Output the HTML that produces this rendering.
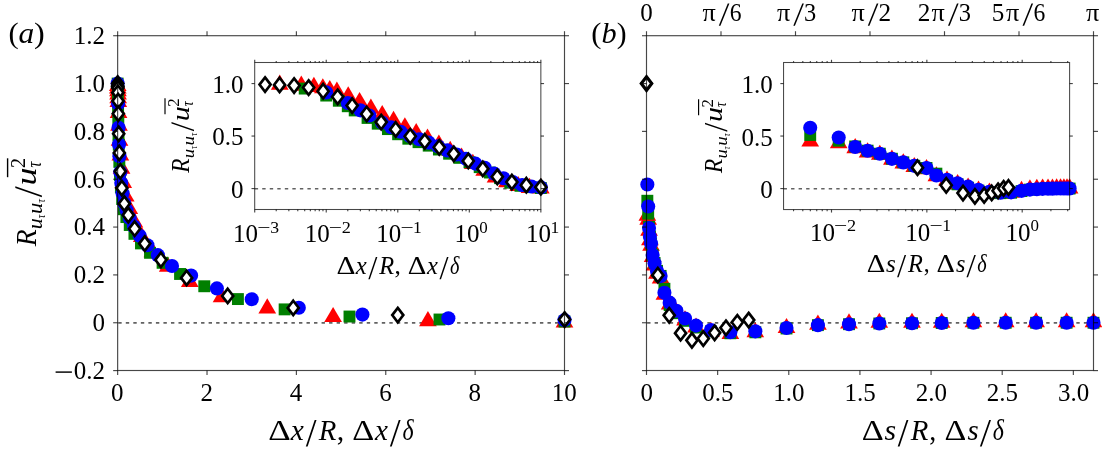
<!DOCTYPE html>
<html><head><meta charset="utf-8"><title>fig</title>
<style>html,body{margin:0;padding:0;background:#fff;}svg{display:block;will-change:transform;}</style></head>
<body>
<svg width="1102" height="449" viewBox="0 0 1102 449" font-family="'Liberation Serif', serif" fill="#000">
<rect width="1102" height="449" fill="#fff"/>
<line x1="118.25" y1="322.85" x2="564.50" y2="322.85" stroke="#626262" stroke-width="1.65" stroke-dasharray="3.4 4.13"/>
<line x1="647.10" y1="322.85" x2="1093.50" y2="322.85" stroke="#626262" stroke-width="1.65" stroke-dasharray="3.4 4.13"/>
<path d="M108.90 91.03L126.60 91.03L117.75 75.88Z" fill="#ff0000"/>
<path d="M109.00 93.43L126.70 93.43L117.85 78.28Z" fill="#ff0000"/>
<path d="M109.10 96.13L126.80 96.13L117.95 80.98Z" fill="#ff0000"/>
<path d="M109.20 99.42L126.90 99.42L118.05 84.27Z" fill="#ff0000"/>
<path d="M109.30 103.35L127.00 103.35L118.15 88.20Z" fill="#ff0000"/>
<path d="M109.43 106.89L127.13 106.89L118.28 91.74Z" fill="#ff0000"/>
<path d="M109.71 117.92L127.41 117.92L118.56 102.77Z" fill="#ff0000"/>
<path d="M110.11 130.76L127.81 130.76L118.96 115.61Z" fill="#ff0000"/>
<path d="M110.68 145.80L128.38 145.80L119.53 130.65Z" fill="#ff0000"/>
<path d="M111.51 160.38L129.21 160.38L120.36 145.23Z" fill="#ff0000"/>
<path d="M112.70 173.77L130.40 173.77L121.55 158.62Z" fill="#ff0000"/>
<path d="M114.42 188.10L132.12 188.10L123.27 172.95Z" fill="#ff0000"/>
<path d="M116.89 201.59L134.59 201.59L125.74 186.44Z" fill="#ff0000"/>
<path d="M120.45 214.00L138.15 214.00L129.30 198.85Z" fill="#ff0000"/>
<path d="M125.57 227.59L143.27 227.59L134.42 212.44Z" fill="#ff0000"/>
<path d="M132.95 241.98L150.65 241.98L141.80 226.83Z" fill="#ff0000"/>
<path d="M143.58 257.16L161.28 257.16L152.43 242.01Z" fill="#ff0000"/>
<path d="M158.89 271.73L176.59 271.73L167.74 256.58Z" fill="#ff0000"/>
<path d="M180.94 287.05L198.64 287.05L189.79 271.90Z" fill="#ff0000"/>
<path d="M212.69 302.32L230.39 302.32L221.54 287.17Z" fill="#ff0000"/>
<path d="M258.41 313.44L276.11 313.44L267.26 298.29Z" fill="#ff0000"/>
<path d="M324.26 322.06L341.96 322.06L333.11 306.91Z" fill="#ff0000"/>
<path d="M419.09 326.20L436.79 326.20L427.94 311.05Z" fill="#ff0000"/>
<path d="M555.65 327.56L573.35 327.56L564.50 312.41Z" fill="#ff0000"/>
<rect x="111.70" y="77.60" width="11.9" height="11.9" fill="#007f00"/>
<rect x="111.92" y="89.04" width="11.9" height="11.9" fill="#007f00"/>
<rect x="112.15" y="104.95" width="11.9" height="11.9" fill="#007f00"/>
<rect x="112.37" y="116.77" width="11.9" height="11.9" fill="#007f00"/>
<rect x="112.59" y="129.29" width="11.9" height="11.9" fill="#007f00"/>
<rect x="112.82" y="138.84" width="11.9" height="11.9" fill="#007f00"/>
<rect x="113.39" y="155.94" width="11.9" height="11.9" fill="#007f00"/>
<rect x="114.05" y="169.05" width="11.9" height="11.9" fill="#007f00"/>
<rect x="114.96" y="181.38" width="11.9" height="11.9" fill="#007f00"/>
<rect x="116.22" y="193.07" width="11.9" height="11.9" fill="#007f00"/>
<rect x="117.98" y="203.26" width="11.9" height="11.9" fill="#007f00"/>
<rect x="120.41" y="211.13" width="11.9" height="11.9" fill="#007f00"/>
<rect x="123.80" y="219.05" width="11.9" height="11.9" fill="#007f00"/>
<rect x="128.49" y="227.90" width="11.9" height="11.9" fill="#007f00"/>
<rect x="135.02" y="237.45" width="11.9" height="11.9" fill="#007f00"/>
<rect x="144.07" y="246.86" width="11.9" height="11.9" fill="#007f00"/>
<rect x="156.64" y="256.88" width="11.9" height="11.9" fill="#007f00"/>
<rect x="174.10" y="268.03" width="11.9" height="11.9" fill="#007f00"/>
<rect x="198.33" y="280.31" width="11.9" height="11.9" fill="#007f00"/>
<rect x="231.97" y="293.12" width="11.9" height="11.9" fill="#007f00"/>
<rect x="278.68" y="303.43" width="11.9" height="11.9" fill="#007f00"/>
<rect x="343.53" y="310.58" width="11.9" height="11.9" fill="#007f00"/>
<rect x="433.56" y="313.56" width="11.9" height="11.9" fill="#007f00"/>
<rect x="558.55" y="315.60" width="11.9" height="11.9" fill="#007f00"/>
<circle cx="117.65" cy="83.55" r="7.05" fill="#0000ff"/>
<circle cx="118.10" cy="103.72" r="7.05" fill="#0000ff"/>
<circle cx="118.54" cy="127.70" r="7.05" fill="#0000ff"/>
<circle cx="118.99" cy="144.60" r="7.05" fill="#0000ff"/>
<circle cx="119.44" cy="156.25" r="7.05" fill="#0000ff"/>
<circle cx="120.33" cy="172.15" r="7.05" fill="#0000ff"/>
<circle cx="121.27" cy="182.94" r="7.05" fill="#0000ff"/>
<circle cx="122.54" cy="193.25" r="7.05" fill="#0000ff"/>
<circle cx="124.26" cy="203.05" r="7.05" fill="#0000ff"/>
<circle cx="126.58" cy="210.30" r="7.05" fill="#0000ff"/>
<circle cx="129.72" cy="218.05" r="7.05" fill="#0000ff"/>
<circle cx="133.96" cy="226.61" r="7.05" fill="#0000ff"/>
<circle cx="139.69" cy="235.83" r="7.05" fill="#0000ff"/>
<circle cx="147.43" cy="245.18" r="7.05" fill="#0000ff"/>
<circle cx="157.88" cy="255.14" r="7.05" fill="#0000ff"/>
<circle cx="172.01" cy="265.98" r="7.05" fill="#0000ff"/>
<circle cx="191.09" cy="275.61" r="7.05" fill="#0000ff"/>
<circle cx="216.88" cy="288.40" r="7.05" fill="#0000ff"/>
<circle cx="251.73" cy="299.20" r="7.05" fill="#0000ff"/>
<circle cx="298.81" cy="307.73" r="7.05" fill="#0000ff"/>
<circle cx="362.42" cy="314.60" r="7.05" fill="#0000ff"/>
<circle cx="448.37" cy="318.21" r="7.05" fill="#0000ff"/>
<circle cx="564.50" cy="320.12" r="7.05" fill="#0000ff"/>
<path d="M117.65 76.35L123.20 83.55L117.65 90.75L112.10 83.55Z" fill="#fff" stroke="#000" stroke-width="2.65" stroke-linejoin="miter"/>
<path d="M117.71 78.74L123.26 85.94L117.71 93.14L112.16 85.94Z" fill="#fff" stroke="#000" stroke-width="2.65" stroke-linejoin="miter"/>
<path d="M117.75 79.46L123.30 86.66L117.75 93.86L112.20 86.66Z" fill="#fff" stroke="#000" stroke-width="2.65" stroke-linejoin="miter"/>
<path d="M117.81 80.89L123.36 88.09L117.81 95.29L112.26 88.09Z" fill="#fff" stroke="#000" stroke-width="2.65" stroke-linejoin="miter"/>
<path d="M117.90 85.44L123.45 92.64L117.90 99.84L112.35 92.64Z" fill="#fff" stroke="#000" stroke-width="2.65" stroke-linejoin="miter"/>
<path d="M118.05 93.81L123.60 101.01L118.05 108.21L112.50 101.01Z" fill="#fff" stroke="#000" stroke-width="2.65" stroke-linejoin="miter"/>
<path d="M118.30 106.49L123.85 113.69L118.30 120.89L112.75 113.69Z" fill="#fff" stroke="#000" stroke-width="2.65" stroke-linejoin="miter"/>
<path d="M118.68 126.58L124.23 133.78L118.68 140.98L113.13 133.78Z" fill="#fff" stroke="#000" stroke-width="2.65" stroke-linejoin="miter"/>
<path d="M119.29 145.72L124.84 152.92L119.29 160.12L113.74 152.92Z" fill="#fff" stroke="#000" stroke-width="2.65" stroke-linejoin="miter"/>
<path d="M120.27 164.14L125.82 171.34L120.27 178.54L114.72 171.34Z" fill="#fff" stroke="#000" stroke-width="2.65" stroke-linejoin="miter"/>
<path d="M121.83 180.88L127.38 188.08L121.83 195.28L116.28 188.08Z" fill="#fff" stroke="#000" stroke-width="2.65" stroke-linejoin="miter"/>
<path d="M124.32 196.43L129.87 203.63L124.32 210.83L118.77 203.63Z" fill="#fff" stroke="#000" stroke-width="2.65" stroke-linejoin="miter"/>
<path d="M128.29 207.91L133.84 215.11L128.29 222.31L122.74 215.11Z" fill="#fff" stroke="#000" stroke-width="2.65" stroke-linejoin="miter"/>
<path d="M134.63 221.54L140.18 228.74L134.63 235.94L129.08 228.74Z" fill="#fff" stroke="#000" stroke-width="2.65" stroke-linejoin="miter"/>
<path d="M144.74 236.37L150.29 243.57L144.74 250.77L139.19 243.57Z" fill="#fff" stroke="#000" stroke-width="2.65" stroke-linejoin="miter"/>
<path d="M160.88 252.64L166.43 259.84L160.88 267.04L155.33 259.84Z" fill="#fff" stroke="#000" stroke-width="2.65" stroke-linejoin="miter"/>
<path d="M186.62 270.70L192.17 277.90L186.62 285.10L181.07 277.90Z" fill="#fff" stroke="#000" stroke-width="2.65" stroke-linejoin="miter"/>
<path d="M227.69 288.76L233.24 295.96L227.69 303.16L222.14 295.96Z" fill="#fff" stroke="#000" stroke-width="2.65" stroke-linejoin="miter"/>
<path d="M293.22 300.72L298.77 307.92L293.22 315.12L287.67 307.92Z" fill="#fff" stroke="#000" stroke-width="2.65" stroke-linejoin="miter"/>
<path d="M397.78 307.90L403.33 315.10L397.78 322.30L392.23 315.10Z" fill="#fff" stroke="#000" stroke-width="2.65" stroke-linejoin="miter"/>
<path d="M564.60 312.32L570.15 319.52L564.60 326.72L559.05 319.52Z" fill="#fff" stroke="#000" stroke-width="2.65" stroke-linejoin="miter"/>
<path d="M638.50 220.64L656.20 220.64L647.35 205.49Z" fill="#ff0000"/>
<path d="M639.34 224.70L657.04 224.70L648.19 209.55Z" fill="#ff0000"/>
<path d="M640.17 235.71L657.87 235.71L649.02 220.56Z" fill="#ff0000"/>
<path d="M641.05 245.28L658.75 245.28L649.90 230.13Z" fill="#ff0000"/>
<path d="M642.22 250.78L659.92 250.78L651.07 235.63Z" fill="#ff0000"/>
<path d="M643.77 262.02L661.47 262.02L652.62 246.87Z" fill="#ff0000"/>
<path d="M645.71 270.39L663.41 270.39L654.56 255.24Z" fill="#ff0000"/>
<path d="M648.16 278.76L665.86 278.76L657.01 263.61Z" fill="#ff0000"/>
<path d="M651.76 283.55L669.46 283.55L660.61 268.40Z" fill="#ff0000"/>
<path d="M655.56 299.81L673.26 299.81L664.41 284.66Z" fill="#ff0000"/>
<path d="M660.80 309.62L678.50 309.62L669.65 294.47Z" fill="#ff0000"/>
<path d="M667.54 317.75L685.24 317.75L676.39 302.60Z" fill="#ff0000"/>
<path d="M676.18 325.41L693.88 325.41L685.03 310.26Z" fill="#ff0000"/>
<path d="M687.18 332.58L704.88 332.58L696.03 317.43Z" fill="#ff0000"/>
<path d="M702.09 336.89L719.79 336.89L710.94 321.74Z" fill="#ff0000"/>
<path d="M721.50 339.04L739.20 339.04L730.35 323.89Z" fill="#ff0000"/>
<path d="M746.48 337.37L764.18 337.37L755.33 322.22Z" fill="#ff0000"/>
<path d="M777.66 333.06L795.36 333.06L786.51 317.91Z" fill="#ff0000"/>
<path d="M809.06 329.71L826.76 329.71L817.91 314.56Z" fill="#ff0000"/>
<path d="M840.16 328.52L857.86 328.52L849.01 313.37Z" fill="#ff0000"/>
<path d="M870.46 327.80L888.16 327.80L879.31 312.65Z" fill="#ff0000"/>
<path d="M903.15 327.80L920.85 327.80L912.00 312.65Z" fill="#ff0000"/>
<path d="M932.86 327.80L950.56 327.80L941.71 312.65Z" fill="#ff0000"/>
<path d="M964.56 327.32L982.26 327.32L973.41 312.17Z" fill="#ff0000"/>
<path d="M996.86 327.32L1014.56 327.32L1005.71 312.17Z" fill="#ff0000"/>
<path d="M1027.27 327.32L1044.97 327.32L1036.12 312.17Z" fill="#ff0000"/>
<path d="M1057.76 327.32L1075.46 327.32L1066.61 312.17Z" fill="#ff0000"/>
<path d="M1084.65 327.32L1102.35 327.32L1093.50 312.17Z" fill="#ff0000"/>
<rect x="641.40" y="194.81" width="11.9" height="11.9" fill="#007f00"/>
<rect x="642.24" y="207.72" width="11.9" height="11.9" fill="#007f00"/>
<rect x="643.07" y="220.88" width="11.9" height="11.9" fill="#007f00"/>
<rect x="643.95" y="230.45" width="11.9" height="11.9" fill="#007f00"/>
<rect x="645.12" y="237.39" width="11.9" height="11.9" fill="#007f00"/>
<rect x="646.67" y="248.87" width="11.9" height="11.9" fill="#007f00"/>
<rect x="648.61" y="257.00" width="11.9" height="11.9" fill="#007f00"/>
<rect x="651.06" y="264.89" width="11.9" height="11.9" fill="#007f00"/>
<rect x="654.66" y="269.92" width="11.9" height="11.9" fill="#007f00"/>
<rect x="658.46" y="282.83" width="11.9" height="11.9" fill="#007f00"/>
<rect x="663.70" y="299.10" width="11.9" height="11.9" fill="#007f00"/>
<rect x="670.44" y="307.23" width="11.9" height="11.9" fill="#007f00"/>
<rect x="679.08" y="314.89" width="11.9" height="11.9" fill="#007f00"/>
<rect x="690.08" y="321.58" width="11.9" height="11.9" fill="#007f00"/>
<rect x="704.99" y="325.41" width="11.9" height="11.9" fill="#007f00"/>
<rect x="724.40" y="327.32" width="11.9" height="11.9" fill="#007f00"/>
<rect x="749.38" y="326.37" width="11.9" height="11.9" fill="#007f00"/>
<rect x="780.56" y="322.54" width="11.9" height="11.9" fill="#007f00"/>
<rect x="811.96" y="319.19" width="11.9" height="11.9" fill="#007f00"/>
<rect x="843.06" y="318.24" width="11.9" height="11.9" fill="#007f00"/>
<rect x="873.36" y="317.52" width="11.9" height="11.9" fill="#007f00"/>
<rect x="906.05" y="317.28" width="11.9" height="11.9" fill="#007f00"/>
<rect x="935.76" y="317.04" width="11.9" height="11.9" fill="#007f00"/>
<rect x="967.46" y="316.80" width="11.9" height="11.9" fill="#007f00"/>
<rect x="999.76" y="316.80" width="11.9" height="11.9" fill="#007f00"/>
<rect x="1030.17" y="316.80" width="11.9" height="11.9" fill="#007f00"/>
<rect x="1060.66" y="316.80" width="11.9" height="11.9" fill="#007f00"/>
<rect x="1087.55" y="316.80" width="11.9" height="11.9" fill="#007f00"/>
<circle cx="647.35" cy="184.49" r="7.05" fill="#0000ff"/>
<circle cx="648.19" cy="206.50" r="7.05" fill="#0000ff"/>
<circle cx="649.02" cy="228.03" r="7.05" fill="#0000ff"/>
<circle cx="649.90" cy="236.64" r="7.05" fill="#0000ff"/>
<circle cx="651.07" cy="243.57" r="7.05" fill="#0000ff"/>
<circle cx="652.62" cy="255.06" r="7.05" fill="#0000ff"/>
<circle cx="654.56" cy="263.19" r="7.05" fill="#0000ff"/>
<circle cx="657.01" cy="271.08" r="7.05" fill="#0000ff"/>
<circle cx="660.61" cy="276.11" r="7.05" fill="#0000ff"/>
<circle cx="664.41" cy="292.85" r="7.05" fill="#0000ff"/>
<circle cx="669.65" cy="302.66" r="7.05" fill="#0000ff"/>
<circle cx="676.39" cy="310.79" r="7.05" fill="#0000ff"/>
<circle cx="685.03" cy="318.44" r="7.05" fill="#0000ff"/>
<circle cx="696.03" cy="325.62" r="7.05" fill="#0000ff"/>
<circle cx="710.94" cy="329.93" r="7.05" fill="#0000ff"/>
<circle cx="730.35" cy="332.32" r="7.05" fill="#0000ff"/>
<circle cx="755.33" cy="331.36" r="7.05" fill="#0000ff"/>
<circle cx="786.51" cy="328.01" r="7.05" fill="#0000ff"/>
<circle cx="817.91" cy="325.14" r="7.05" fill="#0000ff"/>
<circle cx="849.01" cy="324.19" r="7.05" fill="#0000ff"/>
<circle cx="879.31" cy="323.47" r="7.05" fill="#0000ff"/>
<circle cx="912.00" cy="323.23" r="7.05" fill="#0000ff"/>
<circle cx="941.71" cy="322.99" r="7.05" fill="#0000ff"/>
<circle cx="973.41" cy="322.75" r="7.05" fill="#0000ff"/>
<circle cx="1005.71" cy="322.75" r="7.05" fill="#0000ff"/>
<circle cx="1036.12" cy="322.75" r="7.05" fill="#0000ff"/>
<circle cx="1066.61" cy="322.75" r="7.05" fill="#0000ff"/>
<circle cx="1093.50" cy="322.75" r="7.05" fill="#0000ff"/>
<path d="M646.50 76.35L652.05 83.55L646.50 90.75L640.95 83.55Z" fill="#fff" stroke="#000" stroke-width="2.65" stroke-linejoin="miter"/>
<path d="M657.85 267.95L663.40 275.15L657.85 282.35L652.30 275.15Z" fill="#fff" stroke="#000" stroke-width="2.65" stroke-linejoin="miter"/>
<path d="M669.21 308.13L674.76 315.33L669.21 322.53L663.66 315.33Z" fill="#fff" stroke="#000" stroke-width="2.65" stroke-linejoin="miter"/>
<path d="M680.56 325.96L686.11 333.16L680.56 340.36L675.01 333.16Z" fill="#fff" stroke="#000" stroke-width="2.65" stroke-linejoin="miter"/>
<path d="M691.92 333.13L697.47 340.33L691.92 347.53L686.37 340.33Z" fill="#fff" stroke="#000" stroke-width="2.65" stroke-linejoin="miter"/>
<path d="M703.27 331.34L708.82 338.54L703.27 345.74L697.72 338.54Z" fill="#fff" stroke="#000" stroke-width="2.65" stroke-linejoin="miter"/>
<path d="M714.63 325.60L720.18 332.80L714.63 340.00L709.08 332.80Z" fill="#fff" stroke="#000" stroke-width="2.65" stroke-linejoin="miter"/>
<path d="M725.98 320.57L731.53 327.77L725.98 334.97L720.43 327.77Z" fill="#fff" stroke="#000" stroke-width="2.65" stroke-linejoin="miter"/>
<path d="M737.33 315.07L742.88 322.27L737.33 329.47L731.78 322.27Z" fill="#fff" stroke="#000" stroke-width="2.65" stroke-linejoin="miter"/>
<path d="M748.69 312.92L754.24 320.12L748.69 327.32L743.14 320.12Z" fill="#fff" stroke="#000" stroke-width="2.65" stroke-linejoin="miter"/>
<!-- stacked -->
<path d="M646.50 77.21L651.38 83.55L646.50 89.89L641.62 83.55Z" fill="#fff" stroke="#000" stroke-width="2.65" stroke-linejoin="miter"/>
<rect x="117.65" y="35.7" width="446.85" height="334.8" fill="none" stroke="#000" stroke-opacity="0.72" stroke-width="1.15"/>
<line x1="113.15" y1="370.59" x2="117.65" y2="370.59" stroke="#000" stroke-opacity="0.72" stroke-width="1.15" />
<line x1="564.50" y1="370.59" x2="569.00" y2="370.59" stroke="#000" stroke-opacity="0.72" stroke-width="1.15" />
<line x1="113.15" y1="322.75" x2="117.65" y2="322.75" stroke="#000" stroke-opacity="0.72" stroke-width="1.15" />
<line x1="564.50" y1="322.75" x2="569.00" y2="322.75" stroke="#000" stroke-opacity="0.72" stroke-width="1.15" />
<line x1="113.15" y1="274.91" x2="117.65" y2="274.91" stroke="#000" stroke-opacity="0.72" stroke-width="1.15" />
<line x1="564.50" y1="274.91" x2="569.00" y2="274.91" stroke="#000" stroke-opacity="0.72" stroke-width="1.15" />
<line x1="113.15" y1="227.07" x2="117.65" y2="227.07" stroke="#000" stroke-opacity="0.72" stroke-width="1.15" />
<line x1="564.50" y1="227.07" x2="569.00" y2="227.07" stroke="#000" stroke-opacity="0.72" stroke-width="1.15" />
<line x1="113.15" y1="179.23" x2="117.65" y2="179.23" stroke="#000" stroke-opacity="0.72" stroke-width="1.15" />
<line x1="564.50" y1="179.23" x2="569.00" y2="179.23" stroke="#000" stroke-opacity="0.72" stroke-width="1.15" />
<line x1="113.15" y1="131.39" x2="117.65" y2="131.39" stroke="#000" stroke-opacity="0.72" stroke-width="1.15" />
<line x1="564.50" y1="131.39" x2="569.00" y2="131.39" stroke="#000" stroke-opacity="0.72" stroke-width="1.15" />
<line x1="113.15" y1="83.55" x2="117.65" y2="83.55" stroke="#000" stroke-opacity="0.72" stroke-width="1.15" />
<line x1="564.50" y1="83.55" x2="569.00" y2="83.55" stroke="#000" stroke-opacity="0.72" stroke-width="1.15" />
<line x1="113.15" y1="35.71" x2="117.65" y2="35.71" stroke="#000" stroke-opacity="0.72" stroke-width="1.15" />
<line x1="564.50" y1="35.71" x2="569.00" y2="35.71" stroke="#000" stroke-opacity="0.72" stroke-width="1.15" />
<rect x="646.5" y="35.7" width="447.0" height="334.8" fill="none" stroke="#000" stroke-opacity="0.72" stroke-width="1.15"/>
<line x1="642.00" y1="370.59" x2="646.50" y2="370.59" stroke="#000" stroke-opacity="0.72" stroke-width="1.15" />
<line x1="1093.50" y1="370.59" x2="1098.00" y2="370.59" stroke="#000" stroke-opacity="0.72" stroke-width="1.15" />
<line x1="642.00" y1="322.75" x2="646.50" y2="322.75" stroke="#000" stroke-opacity="0.72" stroke-width="1.15" />
<line x1="1093.50" y1="322.75" x2="1098.00" y2="322.75" stroke="#000" stroke-opacity="0.72" stroke-width="1.15" />
<line x1="642.00" y1="274.91" x2="646.50" y2="274.91" stroke="#000" stroke-opacity="0.72" stroke-width="1.15" />
<line x1="1093.50" y1="274.91" x2="1098.00" y2="274.91" stroke="#000" stroke-opacity="0.72" stroke-width="1.15" />
<line x1="642.00" y1="227.07" x2="646.50" y2="227.07" stroke="#000" stroke-opacity="0.72" stroke-width="1.15" />
<line x1="1093.50" y1="227.07" x2="1098.00" y2="227.07" stroke="#000" stroke-opacity="0.72" stroke-width="1.15" />
<line x1="642.00" y1="179.23" x2="646.50" y2="179.23" stroke="#000" stroke-opacity="0.72" stroke-width="1.15" />
<line x1="1093.50" y1="179.23" x2="1098.00" y2="179.23" stroke="#000" stroke-opacity="0.72" stroke-width="1.15" />
<line x1="642.00" y1="131.39" x2="646.50" y2="131.39" stroke="#000" stroke-opacity="0.72" stroke-width="1.15" />
<line x1="1093.50" y1="131.39" x2="1098.00" y2="131.39" stroke="#000" stroke-opacity="0.72" stroke-width="1.15" />
<line x1="642.00" y1="83.55" x2="646.50" y2="83.55" stroke="#000" stroke-opacity="0.72" stroke-width="1.15" />
<line x1="1093.50" y1="83.55" x2="1098.00" y2="83.55" stroke="#000" stroke-opacity="0.72" stroke-width="1.15" />
<line x1="642.00" y1="35.71" x2="646.50" y2="35.71" stroke="#000" stroke-opacity="0.72" stroke-width="1.15" />
<line x1="1093.50" y1="35.71" x2="1098.00" y2="35.71" stroke="#000" stroke-opacity="0.72" stroke-width="1.15" />
<line x1="117.65" y1="370.50" x2="117.65" y2="375.00" stroke="#000" stroke-opacity="0.72" stroke-width="1.15" />
<line x1="117.65" y1="35.70" x2="117.65" y2="31.20" stroke="#000" stroke-opacity="0.72" stroke-width="1.15" />
<line x1="207.02" y1="370.50" x2="207.02" y2="375.00" stroke="#000" stroke-opacity="0.72" stroke-width="1.15" />
<line x1="207.02" y1="35.70" x2="207.02" y2="31.20" stroke="#000" stroke-opacity="0.72" stroke-width="1.15" />
<line x1="296.39" y1="370.50" x2="296.39" y2="375.00" stroke="#000" stroke-opacity="0.72" stroke-width="1.15" />
<line x1="296.39" y1="35.70" x2="296.39" y2="31.20" stroke="#000" stroke-opacity="0.72" stroke-width="1.15" />
<line x1="385.76" y1="370.50" x2="385.76" y2="375.00" stroke="#000" stroke-opacity="0.72" stroke-width="1.15" />
<line x1="385.76" y1="35.70" x2="385.76" y2="31.20" stroke="#000" stroke-opacity="0.72" stroke-width="1.15" />
<line x1="475.13" y1="370.50" x2="475.13" y2="375.00" stroke="#000" stroke-opacity="0.72" stroke-width="1.15" />
<line x1="475.13" y1="35.70" x2="475.13" y2="31.20" stroke="#000" stroke-opacity="0.72" stroke-width="1.15" />
<line x1="564.50" y1="370.50" x2="564.50" y2="375.00" stroke="#000" stroke-opacity="0.72" stroke-width="1.15" />
<line x1="564.50" y1="35.70" x2="564.50" y2="31.20" stroke="#000" stroke-opacity="0.72" stroke-width="1.15" />
<line x1="646.50" y1="370.50" x2="646.50" y2="375.00" stroke="#000" stroke-opacity="0.72" stroke-width="1.15" />
<line x1="646.50" y1="35.70" x2="646.50" y2="31.20" stroke="#000" stroke-opacity="0.72" stroke-width="1.15" />
<line x1="717.64" y1="370.50" x2="717.64" y2="375.00" stroke="#000" stroke-opacity="0.72" stroke-width="1.15" />
<line x1="721.00" y1="35.70" x2="721.00" y2="31.20" stroke="#000" stroke-opacity="0.72" stroke-width="1.15" />
<line x1="788.78" y1="370.50" x2="788.78" y2="375.00" stroke="#000" stroke-opacity="0.72" stroke-width="1.15" />
<line x1="795.50" y1="35.70" x2="795.50" y2="31.20" stroke="#000" stroke-opacity="0.72" stroke-width="1.15" />
<line x1="859.93" y1="370.50" x2="859.93" y2="375.00" stroke="#000" stroke-opacity="0.72" stroke-width="1.15" />
<line x1="870.00" y1="35.70" x2="870.00" y2="31.20" stroke="#000" stroke-opacity="0.72" stroke-width="1.15" />
<line x1="931.07" y1="370.50" x2="931.07" y2="375.00" stroke="#000" stroke-opacity="0.72" stroke-width="1.15" />
<line x1="944.50" y1="35.70" x2="944.50" y2="31.20" stroke="#000" stroke-opacity="0.72" stroke-width="1.15" />
<line x1="1002.21" y1="370.50" x2="1002.21" y2="375.00" stroke="#000" stroke-opacity="0.72" stroke-width="1.15" />
<line x1="1019.00" y1="35.70" x2="1019.00" y2="31.20" stroke="#000" stroke-opacity="0.72" stroke-width="1.15" />
<line x1="1073.35" y1="370.50" x2="1073.35" y2="375.00" stroke="#000" stroke-opacity="0.72" stroke-width="1.15" />
<line x1="1093.50" y1="35.70" x2="1093.50" y2="31.20" stroke="#000" stroke-opacity="0.72" stroke-width="1.15" />
<rect x="254.7" y="62.5" width="286.15" height="147.00" fill="#fff"/>
<line x1="254.70" y1="188.75" x2="540.85" y2="188.75" stroke="#626262" stroke-width="1.65" stroke-dasharray="3.4 4.13"/>
<rect x="783.55" y="62.5" width="286.05" height="147.05" fill="#fff"/>
<line x1="783.55" y1="188.75" x2="1069.60" y2="188.75" stroke="#626262" stroke-width="1.65" stroke-dasharray="3.4 4.13"/>
<path d="M270.91 89.67L288.61 89.67L279.76 74.52Z" fill="#ff0000"/>
<path d="M292.44 90.72L310.14 90.72L301.29 75.57Z" fill="#ff0000"/>
<path d="M305.04 91.91L322.74 91.91L313.89 76.76Z" fill="#ff0000"/>
<path d="M313.98 93.35L331.68 93.35L322.83 78.20Z" fill="#ff0000"/>
<path d="M320.91 95.07L338.61 95.07L329.76 79.92Z" fill="#ff0000"/>
<path d="M328.03 96.63L345.73 96.63L336.88 81.48Z" fill="#ff0000"/>
<path d="M339.36 101.47L357.06 101.47L348.21 86.32Z" fill="#ff0000"/>
<path d="M350.70 107.10L368.40 107.10L359.55 91.95Z" fill="#ff0000"/>
<path d="M362.03 113.71L379.73 113.71L370.88 98.56Z" fill="#ff0000"/>
<path d="M373.36 120.11L391.06 120.11L382.21 104.96Z" fill="#ff0000"/>
<path d="M384.69 125.99L402.39 125.99L393.54 110.84Z" fill="#ff0000"/>
<path d="M396.02 132.28L413.72 132.28L404.87 117.13Z" fill="#ff0000"/>
<path d="M407.35 138.20L425.05 138.20L416.20 123.05Z" fill="#ff0000"/>
<path d="M418.68 143.65L436.38 143.65L427.53 128.50Z" fill="#ff0000"/>
<path d="M430.02 149.61L447.72 149.61L438.87 134.46Z" fill="#ff0000"/>
<path d="M441.35 155.93L459.05 155.93L450.20 140.78Z" fill="#ff0000"/>
<path d="M452.68 162.59L470.38 162.59L461.53 147.44Z" fill="#ff0000"/>
<path d="M464.01 168.99L481.71 168.99L472.86 153.84Z" fill="#ff0000"/>
<path d="M475.34 175.71L493.04 175.71L484.19 160.56Z" fill="#ff0000"/>
<path d="M486.67 182.41L504.37 182.41L495.52 167.26Z" fill="#ff0000"/>
<path d="M498.01 187.29L515.71 187.29L506.86 172.14Z" fill="#ff0000"/>
<path d="M509.34 191.08L527.04 191.08L518.19 175.93Z" fill="#ff0000"/>
<path d="M520.67 192.90L538.37 192.90L529.52 177.75Z" fill="#ff0000"/>
<path d="M532.00 193.50L549.70 193.50L540.85 178.35Z" fill="#ff0000"/>
<rect x="298.75" y="82.62" width="11.9" height="11.9" fill="#007f00"/>
<rect x="320.29" y="89.61" width="11.9" height="11.9" fill="#007f00"/>
<rect x="332.88" y="94.79" width="11.9" height="11.9" fill="#007f00"/>
<rect x="341.82" y="100.29" width="11.9" height="11.9" fill="#007f00"/>
<rect x="348.76" y="104.48" width="11.9" height="11.9" fill="#007f00"/>
<rect x="361.60" y="111.99" width="11.9" height="11.9" fill="#007f00"/>
<rect x="371.79" y="117.74" width="11.9" height="11.9" fill="#007f00"/>
<rect x="381.99" y="123.15" width="11.9" height="11.9" fill="#007f00"/>
<rect x="392.18" y="128.29" width="11.9" height="11.9" fill="#007f00"/>
<rect x="402.38" y="132.76" width="11.9" height="11.9" fill="#007f00"/>
<rect x="412.57" y="136.21" width="11.9" height="11.9" fill="#007f00"/>
<rect x="422.76" y="139.69" width="11.9" height="11.9" fill="#007f00"/>
<rect x="432.96" y="143.57" width="11.9" height="11.9" fill="#007f00"/>
<rect x="443.15" y="147.77" width="11.9" height="11.9" fill="#007f00"/>
<rect x="453.35" y="151.90" width="11.9" height="11.9" fill="#007f00"/>
<rect x="463.54" y="156.30" width="11.9" height="11.9" fill="#007f00"/>
<rect x="473.74" y="161.19" width="11.9" height="11.9" fill="#007f00"/>
<rect x="483.93" y="166.58" width="11.9" height="11.9" fill="#007f00"/>
<rect x="494.12" y="172.21" width="11.9" height="11.9" fill="#007f00"/>
<rect x="504.32" y="176.73" width="11.9" height="11.9" fill="#007f00"/>
<rect x="514.51" y="179.87" width="11.9" height="11.9" fill="#007f00"/>
<rect x="524.71" y="181.18" width="11.9" height="11.9" fill="#007f00"/>
<rect x="534.90" y="182.08" width="11.9" height="11.9" fill="#007f00"/>
<circle cx="326.24" cy="92.41" r="7.05" fill="#0000ff"/>
<circle cx="347.77" cy="102.93" r="7.05" fill="#0000ff"/>
<circle cx="360.37" cy="110.35" r="7.05" fill="#0000ff"/>
<circle cx="369.31" cy="115.46" r="7.05" fill="#0000ff"/>
<circle cx="381.90" cy="122.44" r="7.05" fill="#0000ff"/>
<circle cx="391.25" cy="127.18" r="7.05" fill="#0000ff"/>
<circle cx="400.60" cy="131.71" r="7.05" fill="#0000ff"/>
<circle cx="409.95" cy="136.00" r="7.05" fill="#0000ff"/>
<circle cx="419.30" cy="139.19" r="7.05" fill="#0000ff"/>
<circle cx="428.65" cy="142.59" r="7.05" fill="#0000ff"/>
<circle cx="438.00" cy="146.35" r="7.05" fill="#0000ff"/>
<circle cx="447.35" cy="150.40" r="7.05" fill="#0000ff"/>
<circle cx="456.70" cy="154.50" r="7.05" fill="#0000ff"/>
<circle cx="466.05" cy="158.87" r="7.05" fill="#0000ff"/>
<circle cx="475.40" cy="163.63" r="7.05" fill="#0000ff"/>
<circle cx="484.75" cy="167.86" r="7.05" fill="#0000ff"/>
<circle cx="494.10" cy="173.47" r="7.05" fill="#0000ff"/>
<circle cx="503.45" cy="178.21" r="7.05" fill="#0000ff"/>
<circle cx="512.80" cy="181.96" r="7.05" fill="#0000ff"/>
<circle cx="522.15" cy="184.97" r="7.05" fill="#0000ff"/>
<circle cx="531.50" cy="186.56" r="7.05" fill="#0000ff"/>
<circle cx="540.85" cy="187.40" r="7.05" fill="#0000ff"/>
<path d="M265.07 77.40L270.62 84.60L265.07 91.80L259.52 84.60Z" fill="#fff" stroke="#000" stroke-width="2.65" stroke-linejoin="miter"/>
<path d="M279.59 77.72L285.14 84.92L279.59 92.12L274.04 84.92Z" fill="#fff" stroke="#000" stroke-width="2.65" stroke-linejoin="miter"/>
<path d="M294.10 78.35L299.65 85.55L294.10 92.75L288.55 85.55Z" fill="#fff" stroke="#000" stroke-width="2.65" stroke-linejoin="miter"/>
<path d="M308.62 80.34L314.17 87.54L308.62 94.74L303.07 87.54Z" fill="#fff" stroke="#000" stroke-width="2.65" stroke-linejoin="miter"/>
<path d="M323.13 84.02L328.68 91.22L323.13 98.42L317.58 91.22Z" fill="#fff" stroke="#000" stroke-width="2.65" stroke-linejoin="miter"/>
<path d="M337.65 89.58L343.20 96.78L337.65 103.98L332.10 96.78Z" fill="#fff" stroke="#000" stroke-width="2.65" stroke-linejoin="miter"/>
<path d="M352.16 98.40L357.71 105.60L352.16 112.80L346.61 105.60Z" fill="#fff" stroke="#000" stroke-width="2.65" stroke-linejoin="miter"/>
<path d="M366.68 106.80L372.23 114.00L366.68 121.20L361.13 114.00Z" fill="#fff" stroke="#000" stroke-width="2.65" stroke-linejoin="miter"/>
<path d="M381.19 114.89L386.74 122.09L381.19 129.28L375.64 122.09Z" fill="#fff" stroke="#000" stroke-width="2.65" stroke-linejoin="miter"/>
<path d="M395.71 122.23L401.26 129.44L395.71 136.63L390.16 129.44Z" fill="#fff" stroke="#000" stroke-width="2.65" stroke-linejoin="miter"/>
<path d="M410.22 129.06L415.77 136.26L410.22 143.46L404.67 136.26Z" fill="#fff" stroke="#000" stroke-width="2.65" stroke-linejoin="miter"/>
<path d="M424.74 134.10L430.29 141.30L424.74 148.50L419.19 141.30Z" fill="#fff" stroke="#000" stroke-width="2.65" stroke-linejoin="miter"/>
<path d="M439.25 140.09L444.80 147.29L439.25 154.49L433.70 147.29Z" fill="#fff" stroke="#000" stroke-width="2.65" stroke-linejoin="miter"/>
<path d="M453.77 146.60L459.32 153.80L453.77 161.00L448.22 153.80Z" fill="#fff" stroke="#000" stroke-width="2.65" stroke-linejoin="miter"/>
<path d="M468.28 153.74L473.83 160.94L468.28 168.13L462.73 160.94Z" fill="#fff" stroke="#000" stroke-width="2.65" stroke-linejoin="miter"/>
<path d="M482.80 161.66L488.35 168.86L482.80 176.06L477.25 168.86Z" fill="#fff" stroke="#000" stroke-width="2.65" stroke-linejoin="miter"/>
<path d="M497.31 169.59L502.86 176.79L497.31 183.99L491.76 176.79Z" fill="#fff" stroke="#000" stroke-width="2.65" stroke-linejoin="miter"/>
<path d="M511.83 174.84L517.38 182.04L511.83 189.24L506.28 182.04Z" fill="#fff" stroke="#000" stroke-width="2.65" stroke-linejoin="miter"/>
<path d="M526.34 177.99L531.89 185.19L526.34 192.39L520.79 185.19Z" fill="#fff" stroke="#000" stroke-width="2.65" stroke-linejoin="miter"/>
<path d="M540.86 179.93L546.41 187.13L540.86 194.33L535.31 187.13Z" fill="#fff" stroke="#000" stroke-width="2.65" stroke-linejoin="miter"/>
<path d="M801.36 146.56L819.06 146.56L810.21 131.41Z" fill="#ff0000"/>
<path d="M829.85 148.35L847.55 148.35L838.70 133.20Z" fill="#ff0000"/>
<path d="M846.34 153.18L864.04 153.18L855.19 138.03Z" fill="#ff0000"/>
<path d="M858.74 157.38L876.44 157.38L867.59 142.23Z" fill="#ff0000"/>
<path d="M870.95 159.79L888.65 159.79L879.80 144.64Z" fill="#ff0000"/>
<path d="M883.05 164.73L900.75 164.73L891.90 149.58Z" fill="#ff0000"/>
<path d="M894.45 168.40L912.15 168.40L903.30 153.25Z" fill="#ff0000"/>
<path d="M905.45 172.08L923.15 172.08L914.30 156.93Z" fill="#ff0000"/>
<path d="M917.65 174.18L935.35 174.18L926.50 159.03Z" fill="#ff0000"/>
<path d="M927.53 181.32L945.23 181.32L936.38 166.17Z" fill="#ff0000"/>
<path d="M938.15 185.62L955.85 185.62L947.00 170.47Z" fill="#ff0000"/>
<path d="M948.74 189.19L966.44 189.19L957.59 174.04Z" fill="#ff0000"/>
<path d="M959.25 192.55L976.95 192.55L968.10 177.40Z" fill="#ff0000"/>
<path d="M969.65 195.70L987.35 195.70L978.50 180.55Z" fill="#ff0000"/>
<path d="M980.55 197.59L998.25 197.59L989.40 182.44Z" fill="#ff0000"/>
<path d="M991.45 198.54L1009.15 198.54L1000.30 183.39Z" fill="#ff0000"/>
<path d="M1002.25 197.80L1019.95 197.80L1011.10 182.65Z" fill="#ff0000"/>
<path d="M1012.68 195.91L1030.38 195.91L1021.53 180.76Z" fill="#ff0000"/>
<path d="M1021.06 194.44L1038.76 194.44L1029.91 179.29Z" fill="#ff0000"/>
<path d="M1027.96 193.92L1045.66 193.92L1036.81 178.77Z" fill="#ff0000"/>
<path d="M1033.74 193.60L1051.44 193.60L1042.59 178.45Z" fill="#ff0000"/>
<path d="M1039.18 193.60L1056.88 193.60L1048.03 178.45Z" fill="#ff0000"/>
<path d="M1043.57 193.60L1061.27 193.60L1052.42 178.45Z" fill="#ff0000"/>
<path d="M1047.79 193.39L1065.49 193.39L1056.64 178.24Z" fill="#ff0000"/>
<path d="M1051.70 193.39L1069.40 193.39L1060.55 178.24Z" fill="#ff0000"/>
<path d="M1055.06 193.39L1072.76 193.39L1063.91 178.24Z" fill="#ff0000"/>
<path d="M1058.18 193.39L1075.88 193.39L1067.03 178.24Z" fill="#ff0000"/>
<path d="M1060.75 193.39L1078.45 193.39L1069.60 178.24Z" fill="#ff0000"/>
<rect x="804.26" y="129.05" width="11.9" height="11.9" fill="#007f00"/>
<rect x="832.75" y="134.72" width="11.9" height="11.9" fill="#007f00"/>
<rect x="849.24" y="140.50" width="11.9" height="11.9" fill="#007f00"/>
<rect x="861.64" y="144.70" width="11.9" height="11.9" fill="#007f00"/>
<rect x="873.85" y="147.74" width="11.9" height="11.9" fill="#007f00"/>
<rect x="885.95" y="152.78" width="11.9" height="11.9" fill="#007f00"/>
<rect x="897.35" y="156.35" width="11.9" height="11.9" fill="#007f00"/>
<rect x="908.35" y="159.82" width="11.9" height="11.9" fill="#007f00"/>
<rect x="920.55" y="162.02" width="11.9" height="11.9" fill="#007f00"/>
<rect x="930.43" y="167.69" width="11.9" height="11.9" fill="#007f00"/>
<rect x="941.05" y="174.83" width="11.9" height="11.9" fill="#007f00"/>
<rect x="951.64" y="178.40" width="11.9" height="11.9" fill="#007f00"/>
<rect x="962.15" y="181.76" width="11.9" height="11.9" fill="#007f00"/>
<rect x="972.55" y="184.70" width="11.9" height="11.9" fill="#007f00"/>
<rect x="983.45" y="186.38" width="11.9" height="11.9" fill="#007f00"/>
<rect x="994.35" y="187.22" width="11.9" height="11.9" fill="#007f00"/>
<rect x="1005.15" y="186.80" width="11.9" height="11.9" fill="#007f00"/>
<rect x="1015.58" y="185.12" width="11.9" height="11.9" fill="#007f00"/>
<rect x="1023.96" y="183.65" width="11.9" height="11.9" fill="#007f00"/>
<rect x="1030.86" y="183.23" width="11.9" height="11.9" fill="#007f00"/>
<rect x="1036.64" y="182.92" width="11.9" height="11.9" fill="#007f00"/>
<rect x="1042.08" y="182.81" width="11.9" height="11.9" fill="#007f00"/>
<rect x="1046.47" y="182.71" width="11.9" height="11.9" fill="#007f00"/>
<rect x="1050.69" y="182.60" width="11.9" height="11.9" fill="#007f00"/>
<rect x="1054.60" y="182.60" width="11.9" height="11.9" fill="#007f00"/>
<rect x="1057.96" y="182.60" width="11.9" height="11.9" fill="#007f00"/>
<rect x="1061.08" y="182.60" width="11.9" height="11.9" fill="#007f00"/>
<rect x="1063.65" y="182.60" width="11.9" height="11.9" fill="#007f00"/>
<circle cx="810.21" cy="127.86" r="7.05" fill="#0000ff"/>
<circle cx="838.70" cy="137.52" r="7.05" fill="#0000ff"/>
<circle cx="855.19" cy="146.97" r="7.05" fill="#0000ff"/>
<circle cx="867.59" cy="150.75" r="7.05" fill="#0000ff"/>
<circle cx="879.80" cy="153.80" r="7.05" fill="#0000ff"/>
<circle cx="891.90" cy="158.84" r="7.05" fill="#0000ff"/>
<circle cx="903.30" cy="162.41" r="7.05" fill="#0000ff"/>
<circle cx="914.30" cy="165.87" r="7.05" fill="#0000ff"/>
<circle cx="926.50" cy="168.08" r="7.05" fill="#0000ff"/>
<circle cx="936.38" cy="175.43" r="7.05" fill="#0000ff"/>
<circle cx="947.00" cy="179.73" r="7.05" fill="#0000ff"/>
<circle cx="957.59" cy="183.30" r="7.05" fill="#0000ff"/>
<circle cx="968.10" cy="186.66" r="7.05" fill="#0000ff"/>
<circle cx="978.50" cy="189.81" r="7.05" fill="#0000ff"/>
<circle cx="989.40" cy="191.70" r="7.05" fill="#0000ff"/>
<circle cx="1000.30" cy="192.75" r="7.05" fill="#0000ff"/>
<circle cx="1011.10" cy="192.33" r="7.05" fill="#0000ff"/>
<circle cx="1021.53" cy="190.86" r="7.05" fill="#0000ff"/>
<circle cx="1029.91" cy="189.60" r="7.05" fill="#0000ff"/>
<circle cx="1036.81" cy="189.18" r="7.05" fill="#0000ff"/>
<circle cx="1042.59" cy="188.87" r="7.05" fill="#0000ff"/>
<circle cx="1048.03" cy="188.76" r="7.05" fill="#0000ff"/>
<circle cx="1052.42" cy="188.66" r="7.05" fill="#0000ff"/>
<circle cx="1056.64" cy="188.55" r="7.05" fill="#0000ff"/>
<circle cx="1060.55" cy="188.55" r="7.05" fill="#0000ff"/>
<circle cx="1063.91" cy="188.55" r="7.05" fill="#0000ff"/>
<circle cx="1067.03" cy="188.55" r="7.05" fill="#0000ff"/>
<circle cx="1069.60" cy="188.55" r="7.05" fill="#0000ff"/>
<path d="M917.50 160.46L923.05 167.66L917.50 174.85L911.95 167.66Z" fill="#fff" stroke="#000" stroke-width="2.65" stroke-linejoin="miter"/>
<path d="M946.21 178.10L951.76 185.30L946.21 192.50L940.66 185.30Z" fill="#fff" stroke="#000" stroke-width="2.65" stroke-linejoin="miter"/>
<path d="M963.00 185.92L968.55 193.12L963.00 200.32L957.45 193.12Z" fill="#fff" stroke="#000" stroke-width="2.65" stroke-linejoin="miter"/>
<path d="M974.91 189.07L980.46 196.27L974.91 203.47L969.36 196.27Z" fill="#fff" stroke="#000" stroke-width="2.65" stroke-linejoin="miter"/>
<path d="M984.15 188.28L989.70 195.48L984.15 202.68L978.60 195.48Z" fill="#fff" stroke="#000" stroke-width="2.65" stroke-linejoin="miter"/>
<path d="M991.70 185.76L997.25 192.96L991.70 200.16L986.15 192.96Z" fill="#fff" stroke="#000" stroke-width="2.65" stroke-linejoin="miter"/>
<path d="M998.08 183.56L1003.63 190.76L998.08 197.96L992.53 190.76Z" fill="#fff" stroke="#000" stroke-width="2.65" stroke-linejoin="miter"/>
<path d="M1003.61 181.14L1009.16 188.34L1003.61 195.54L998.06 188.34Z" fill="#fff" stroke="#000" stroke-width="2.65" stroke-linejoin="miter"/>
<path d="M1008.49 180.20L1014.04 187.40L1008.49 194.59L1002.94 187.40Z" fill="#fff" stroke="#000" stroke-width="2.65" stroke-linejoin="miter"/>
<rect x="254.7" y="62.5" width="286.15" height="147.00" fill="none" stroke="#000" stroke-opacity="0.72" stroke-width="1.05"/>
<line x1="251.50" y1="188.55" x2="254.70" y2="188.55" stroke="#000" stroke-opacity="0.72" stroke-width="1.15" />
<line x1="540.85" y1="188.55" x2="544.05" y2="188.55" stroke="#000" stroke-opacity="0.72" stroke-width="1.15" />
<line x1="251.50" y1="136.05" x2="254.70" y2="136.05" stroke="#000" stroke-opacity="0.72" stroke-width="1.15" />
<line x1="540.85" y1="136.05" x2="544.05" y2="136.05" stroke="#000" stroke-opacity="0.72" stroke-width="1.15" />
<line x1="251.50" y1="83.55" x2="254.70" y2="83.55" stroke="#000" stroke-opacity="0.72" stroke-width="1.15" />
<line x1="540.85" y1="83.55" x2="544.05" y2="83.55" stroke="#000" stroke-opacity="0.72" stroke-width="1.15" />
<line x1="254.70" y1="209.50" x2="254.70" y2="212.50" stroke="#000" stroke-opacity="0.72" stroke-width="1.15" />
<line x1="254.70" y1="62.50" x2="254.70" y2="59.80" stroke="#000" stroke-opacity="0.72" stroke-width="1.15" />
<line x1="276.23" y1="209.50" x2="276.23" y2="211.20" stroke="#000" stroke-opacity="0.72" stroke-width="1.15" />
<line x1="276.23" y1="62.50" x2="276.23" y2="61.10" stroke="#000" stroke-opacity="0.72" stroke-width="1.15" />
<line x1="288.83" y1="209.50" x2="288.83" y2="211.20" stroke="#000" stroke-opacity="0.72" stroke-width="1.15" />
<line x1="288.83" y1="62.50" x2="288.83" y2="61.10" stroke="#000" stroke-opacity="0.72" stroke-width="1.15" />
<line x1="297.77" y1="209.50" x2="297.77" y2="211.20" stroke="#000" stroke-opacity="0.72" stroke-width="1.15" />
<line x1="297.77" y1="62.50" x2="297.77" y2="61.10" stroke="#000" stroke-opacity="0.72" stroke-width="1.15" />
<line x1="304.70" y1="209.50" x2="304.70" y2="211.20" stroke="#000" stroke-opacity="0.72" stroke-width="1.15" />
<line x1="304.70" y1="62.50" x2="304.70" y2="61.10" stroke="#000" stroke-opacity="0.72" stroke-width="1.15" />
<line x1="310.37" y1="209.50" x2="310.37" y2="211.20" stroke="#000" stroke-opacity="0.72" stroke-width="1.15" />
<line x1="310.37" y1="62.50" x2="310.37" y2="61.10" stroke="#000" stroke-opacity="0.72" stroke-width="1.15" />
<line x1="315.16" y1="209.50" x2="315.16" y2="211.20" stroke="#000" stroke-opacity="0.72" stroke-width="1.15" />
<line x1="315.16" y1="62.50" x2="315.16" y2="61.10" stroke="#000" stroke-opacity="0.72" stroke-width="1.15" />
<line x1="319.30" y1="209.50" x2="319.30" y2="211.20" stroke="#000" stroke-opacity="0.72" stroke-width="1.15" />
<line x1="319.30" y1="62.50" x2="319.30" y2="61.10" stroke="#000" stroke-opacity="0.72" stroke-width="1.15" />
<line x1="322.96" y1="209.50" x2="322.96" y2="211.20" stroke="#000" stroke-opacity="0.72" stroke-width="1.15" />
<line x1="322.96" y1="62.50" x2="322.96" y2="61.10" stroke="#000" stroke-opacity="0.72" stroke-width="1.15" />
<line x1="326.24" y1="209.50" x2="326.24" y2="212.50" stroke="#000" stroke-opacity="0.72" stroke-width="1.15" />
<line x1="326.24" y1="62.50" x2="326.24" y2="59.80" stroke="#000" stroke-opacity="0.72" stroke-width="1.15" />
<line x1="347.77" y1="209.50" x2="347.77" y2="211.20" stroke="#000" stroke-opacity="0.72" stroke-width="1.15" />
<line x1="347.77" y1="62.50" x2="347.77" y2="61.10" stroke="#000" stroke-opacity="0.72" stroke-width="1.15" />
<line x1="360.37" y1="209.50" x2="360.37" y2="211.20" stroke="#000" stroke-opacity="0.72" stroke-width="1.15" />
<line x1="360.37" y1="62.50" x2="360.37" y2="61.10" stroke="#000" stroke-opacity="0.72" stroke-width="1.15" />
<line x1="369.31" y1="209.50" x2="369.31" y2="211.20" stroke="#000" stroke-opacity="0.72" stroke-width="1.15" />
<line x1="369.31" y1="62.50" x2="369.31" y2="61.10" stroke="#000" stroke-opacity="0.72" stroke-width="1.15" />
<line x1="376.24" y1="209.50" x2="376.24" y2="211.20" stroke="#000" stroke-opacity="0.72" stroke-width="1.15" />
<line x1="376.24" y1="62.50" x2="376.24" y2="61.10" stroke="#000" stroke-opacity="0.72" stroke-width="1.15" />
<line x1="381.90" y1="209.50" x2="381.90" y2="211.20" stroke="#000" stroke-opacity="0.72" stroke-width="1.15" />
<line x1="381.90" y1="62.50" x2="381.90" y2="61.10" stroke="#000" stroke-opacity="0.72" stroke-width="1.15" />
<line x1="386.69" y1="209.50" x2="386.69" y2="211.20" stroke="#000" stroke-opacity="0.72" stroke-width="1.15" />
<line x1="386.69" y1="62.50" x2="386.69" y2="61.10" stroke="#000" stroke-opacity="0.72" stroke-width="1.15" />
<line x1="390.84" y1="209.50" x2="390.84" y2="211.20" stroke="#000" stroke-opacity="0.72" stroke-width="1.15" />
<line x1="390.84" y1="62.50" x2="390.84" y2="61.10" stroke="#000" stroke-opacity="0.72" stroke-width="1.15" />
<line x1="394.50" y1="209.50" x2="394.50" y2="211.20" stroke="#000" stroke-opacity="0.72" stroke-width="1.15" />
<line x1="394.50" y1="62.50" x2="394.50" y2="61.10" stroke="#000" stroke-opacity="0.72" stroke-width="1.15" />
<line x1="397.77" y1="209.50" x2="397.77" y2="212.50" stroke="#000" stroke-opacity="0.72" stroke-width="1.15" />
<line x1="397.77" y1="62.50" x2="397.77" y2="59.80" stroke="#000" stroke-opacity="0.72" stroke-width="1.15" />
<line x1="419.31" y1="209.50" x2="419.31" y2="211.20" stroke="#000" stroke-opacity="0.72" stroke-width="1.15" />
<line x1="419.31" y1="62.50" x2="419.31" y2="61.10" stroke="#000" stroke-opacity="0.72" stroke-width="1.15" />
<line x1="431.91" y1="209.50" x2="431.91" y2="211.20" stroke="#000" stroke-opacity="0.72" stroke-width="1.15" />
<line x1="431.91" y1="62.50" x2="431.91" y2="61.10" stroke="#000" stroke-opacity="0.72" stroke-width="1.15" />
<line x1="440.84" y1="209.50" x2="440.84" y2="211.20" stroke="#000" stroke-opacity="0.72" stroke-width="1.15" />
<line x1="440.84" y1="62.50" x2="440.84" y2="61.10" stroke="#000" stroke-opacity="0.72" stroke-width="1.15" />
<line x1="447.78" y1="209.50" x2="447.78" y2="211.20" stroke="#000" stroke-opacity="0.72" stroke-width="1.15" />
<line x1="447.78" y1="62.50" x2="447.78" y2="61.10" stroke="#000" stroke-opacity="0.72" stroke-width="1.15" />
<line x1="453.44" y1="209.50" x2="453.44" y2="211.20" stroke="#000" stroke-opacity="0.72" stroke-width="1.15" />
<line x1="453.44" y1="62.50" x2="453.44" y2="61.10" stroke="#000" stroke-opacity="0.72" stroke-width="1.15" />
<line x1="458.23" y1="209.50" x2="458.23" y2="211.20" stroke="#000" stroke-opacity="0.72" stroke-width="1.15" />
<line x1="458.23" y1="62.50" x2="458.23" y2="61.10" stroke="#000" stroke-opacity="0.72" stroke-width="1.15" />
<line x1="462.38" y1="209.50" x2="462.38" y2="211.20" stroke="#000" stroke-opacity="0.72" stroke-width="1.15" />
<line x1="462.38" y1="62.50" x2="462.38" y2="61.10" stroke="#000" stroke-opacity="0.72" stroke-width="1.15" />
<line x1="466.04" y1="209.50" x2="466.04" y2="211.20" stroke="#000" stroke-opacity="0.72" stroke-width="1.15" />
<line x1="466.04" y1="62.50" x2="466.04" y2="61.10" stroke="#000" stroke-opacity="0.72" stroke-width="1.15" />
<line x1="469.31" y1="209.50" x2="469.31" y2="212.50" stroke="#000" stroke-opacity="0.72" stroke-width="1.15" />
<line x1="469.31" y1="62.50" x2="469.31" y2="59.80" stroke="#000" stroke-opacity="0.72" stroke-width="1.15" />
<line x1="490.85" y1="209.50" x2="490.85" y2="211.20" stroke="#000" stroke-opacity="0.72" stroke-width="1.15" />
<line x1="490.85" y1="62.50" x2="490.85" y2="61.10" stroke="#000" stroke-opacity="0.72" stroke-width="1.15" />
<line x1="503.44" y1="209.50" x2="503.44" y2="211.20" stroke="#000" stroke-opacity="0.72" stroke-width="1.15" />
<line x1="503.44" y1="62.50" x2="503.44" y2="61.10" stroke="#000" stroke-opacity="0.72" stroke-width="1.15" />
<line x1="512.38" y1="209.50" x2="512.38" y2="211.20" stroke="#000" stroke-opacity="0.72" stroke-width="1.15" />
<line x1="512.38" y1="62.50" x2="512.38" y2="61.10" stroke="#000" stroke-opacity="0.72" stroke-width="1.15" />
<line x1="519.32" y1="209.50" x2="519.32" y2="211.20" stroke="#000" stroke-opacity="0.72" stroke-width="1.15" />
<line x1="519.32" y1="62.50" x2="519.32" y2="61.10" stroke="#000" stroke-opacity="0.72" stroke-width="1.15" />
<line x1="524.98" y1="209.50" x2="524.98" y2="211.20" stroke="#000" stroke-opacity="0.72" stroke-width="1.15" />
<line x1="524.98" y1="62.50" x2="524.98" y2="61.10" stroke="#000" stroke-opacity="0.72" stroke-width="1.15" />
<line x1="529.77" y1="209.50" x2="529.77" y2="211.20" stroke="#000" stroke-opacity="0.72" stroke-width="1.15" />
<line x1="529.77" y1="62.50" x2="529.77" y2="61.10" stroke="#000" stroke-opacity="0.72" stroke-width="1.15" />
<line x1="533.92" y1="209.50" x2="533.92" y2="211.20" stroke="#000" stroke-opacity="0.72" stroke-width="1.15" />
<line x1="533.92" y1="62.50" x2="533.92" y2="61.10" stroke="#000" stroke-opacity="0.72" stroke-width="1.15" />
<line x1="537.58" y1="209.50" x2="537.58" y2="211.20" stroke="#000" stroke-opacity="0.72" stroke-width="1.15" />
<line x1="537.58" y1="62.50" x2="537.58" y2="61.10" stroke="#000" stroke-opacity="0.72" stroke-width="1.15" />
<line x1="540.85" y1="209.50" x2="540.85" y2="212.50" stroke="#000" stroke-opacity="0.72" stroke-width="1.15" />
<line x1="540.85" y1="62.50" x2="540.85" y2="59.80" stroke="#000" stroke-opacity="0.72" stroke-width="1.15" />
<rect x="783.55" y="62.5" width="286.05" height="147.05" fill="none" stroke="#000" stroke-opacity="0.72" stroke-width="1.05"/>
<line x1="780.35" y1="188.55" x2="783.55" y2="188.55" stroke="#000" stroke-opacity="0.72" stroke-width="1.15" />
<line x1="1069.60" y1="188.55" x2="1072.80" y2="188.55" stroke="#000" stroke-opacity="0.72" stroke-width="1.15" />
<line x1="780.35" y1="136.05" x2="783.55" y2="136.05" stroke="#000" stroke-opacity="0.72" stroke-width="1.15" />
<line x1="1069.60" y1="136.05" x2="1072.80" y2="136.05" stroke="#000" stroke-opacity="0.72" stroke-width="1.15" />
<line x1="780.35" y1="83.55" x2="783.55" y2="83.55" stroke="#000" stroke-opacity="0.72" stroke-width="1.15" />
<line x1="1069.60" y1="83.55" x2="1072.80" y2="83.55" stroke="#000" stroke-opacity="0.72" stroke-width="1.15" />
<line x1="793.55" y1="209.55" x2="793.55" y2="211.25" stroke="#000" stroke-opacity="0.72" stroke-width="1.15" />
<line x1="793.55" y1="62.50" x2="793.55" y2="61.10" stroke="#000" stroke-opacity="0.72" stroke-width="1.15" />
<line x1="802.79" y1="209.55" x2="802.79" y2="211.25" stroke="#000" stroke-opacity="0.72" stroke-width="1.15" />
<line x1="802.79" y1="62.50" x2="802.79" y2="61.10" stroke="#000" stroke-opacity="0.72" stroke-width="1.15" />
<line x1="810.34" y1="209.55" x2="810.34" y2="211.25" stroke="#000" stroke-opacity="0.72" stroke-width="1.15" />
<line x1="810.34" y1="62.50" x2="810.34" y2="61.10" stroke="#000" stroke-opacity="0.72" stroke-width="1.15" />
<line x1="816.73" y1="209.55" x2="816.73" y2="211.25" stroke="#000" stroke-opacity="0.72" stroke-width="1.15" />
<line x1="816.73" y1="62.50" x2="816.73" y2="61.10" stroke="#000" stroke-opacity="0.72" stroke-width="1.15" />
<line x1="822.26" y1="209.55" x2="822.26" y2="211.25" stroke="#000" stroke-opacity="0.72" stroke-width="1.15" />
<line x1="822.26" y1="62.50" x2="822.26" y2="61.10" stroke="#000" stroke-opacity="0.72" stroke-width="1.15" />
<line x1="827.13" y1="209.55" x2="827.13" y2="211.25" stroke="#000" stroke-opacity="0.72" stroke-width="1.15" />
<line x1="827.13" y1="62.50" x2="827.13" y2="61.10" stroke="#000" stroke-opacity="0.72" stroke-width="1.15" />
<line x1="831.50" y1="209.55" x2="831.50" y2="212.55" stroke="#000" stroke-opacity="0.72" stroke-width="1.15" />
<line x1="831.50" y1="62.50" x2="831.50" y2="59.80" stroke="#000" stroke-opacity="0.72" stroke-width="1.15" />
<line x1="860.20" y1="209.55" x2="860.20" y2="211.25" stroke="#000" stroke-opacity="0.72" stroke-width="1.15" />
<line x1="860.20" y1="62.50" x2="860.20" y2="61.10" stroke="#000" stroke-opacity="0.72" stroke-width="1.15" />
<line x1="876.99" y1="209.55" x2="876.99" y2="211.25" stroke="#000" stroke-opacity="0.72" stroke-width="1.15" />
<line x1="876.99" y1="62.50" x2="876.99" y2="61.10" stroke="#000" stroke-opacity="0.72" stroke-width="1.15" />
<line x1="888.90" y1="209.55" x2="888.90" y2="211.25" stroke="#000" stroke-opacity="0.72" stroke-width="1.15" />
<line x1="888.90" y1="62.50" x2="888.90" y2="61.10" stroke="#000" stroke-opacity="0.72" stroke-width="1.15" />
<line x1="898.14" y1="209.55" x2="898.14" y2="211.25" stroke="#000" stroke-opacity="0.72" stroke-width="1.15" />
<line x1="898.14" y1="62.50" x2="898.14" y2="61.10" stroke="#000" stroke-opacity="0.72" stroke-width="1.15" />
<line x1="905.69" y1="209.55" x2="905.69" y2="211.25" stroke="#000" stroke-opacity="0.72" stroke-width="1.15" />
<line x1="905.69" y1="62.50" x2="905.69" y2="61.10" stroke="#000" stroke-opacity="0.72" stroke-width="1.15" />
<line x1="912.08" y1="209.55" x2="912.08" y2="211.25" stroke="#000" stroke-opacity="0.72" stroke-width="1.15" />
<line x1="912.08" y1="62.50" x2="912.08" y2="61.10" stroke="#000" stroke-opacity="0.72" stroke-width="1.15" />
<line x1="917.61" y1="209.55" x2="917.61" y2="211.25" stroke="#000" stroke-opacity="0.72" stroke-width="1.15" />
<line x1="917.61" y1="62.50" x2="917.61" y2="61.10" stroke="#000" stroke-opacity="0.72" stroke-width="1.15" />
<line x1="922.48" y1="209.55" x2="922.48" y2="211.25" stroke="#000" stroke-opacity="0.72" stroke-width="1.15" />
<line x1="922.48" y1="62.50" x2="922.48" y2="61.10" stroke="#000" stroke-opacity="0.72" stroke-width="1.15" />
<line x1="926.85" y1="209.55" x2="926.85" y2="212.55" stroke="#000" stroke-opacity="0.72" stroke-width="1.15" />
<line x1="926.85" y1="62.50" x2="926.85" y2="59.80" stroke="#000" stroke-opacity="0.72" stroke-width="1.15" />
<line x1="955.55" y1="209.55" x2="955.55" y2="211.25" stroke="#000" stroke-opacity="0.72" stroke-width="1.15" />
<line x1="955.55" y1="62.50" x2="955.55" y2="61.10" stroke="#000" stroke-opacity="0.72" stroke-width="1.15" />
<line x1="972.34" y1="209.55" x2="972.34" y2="211.25" stroke="#000" stroke-opacity="0.72" stroke-width="1.15" />
<line x1="972.34" y1="62.50" x2="972.34" y2="61.10" stroke="#000" stroke-opacity="0.72" stroke-width="1.15" />
<line x1="984.25" y1="209.55" x2="984.25" y2="211.25" stroke="#000" stroke-opacity="0.72" stroke-width="1.15" />
<line x1="984.25" y1="62.50" x2="984.25" y2="61.10" stroke="#000" stroke-opacity="0.72" stroke-width="1.15" />
<line x1="993.49" y1="209.55" x2="993.49" y2="211.25" stroke="#000" stroke-opacity="0.72" stroke-width="1.15" />
<line x1="993.49" y1="62.50" x2="993.49" y2="61.10" stroke="#000" stroke-opacity="0.72" stroke-width="1.15" />
<line x1="1001.04" y1="209.55" x2="1001.04" y2="211.25" stroke="#000" stroke-opacity="0.72" stroke-width="1.15" />
<line x1="1001.04" y1="62.50" x2="1001.04" y2="61.10" stroke="#000" stroke-opacity="0.72" stroke-width="1.15" />
<line x1="1007.43" y1="209.55" x2="1007.43" y2="211.25" stroke="#000" stroke-opacity="0.72" stroke-width="1.15" />
<line x1="1007.43" y1="62.50" x2="1007.43" y2="61.10" stroke="#000" stroke-opacity="0.72" stroke-width="1.15" />
<line x1="1012.96" y1="209.55" x2="1012.96" y2="211.25" stroke="#000" stroke-opacity="0.72" stroke-width="1.15" />
<line x1="1012.96" y1="62.50" x2="1012.96" y2="61.10" stroke="#000" stroke-opacity="0.72" stroke-width="1.15" />
<line x1="1017.83" y1="209.55" x2="1017.83" y2="211.25" stroke="#000" stroke-opacity="0.72" stroke-width="1.15" />
<line x1="1017.83" y1="62.50" x2="1017.83" y2="61.10" stroke="#000" stroke-opacity="0.72" stroke-width="1.15" />
<line x1="1022.20" y1="209.55" x2="1022.20" y2="212.55" stroke="#000" stroke-opacity="0.72" stroke-width="1.15" />
<line x1="1022.20" y1="62.50" x2="1022.20" y2="59.80" stroke="#000" stroke-opacity="0.72" stroke-width="1.15" />
<line x1="1050.90" y1="209.55" x2="1050.90" y2="211.25" stroke="#000" stroke-opacity="0.72" stroke-width="1.15" />
<line x1="1050.90" y1="62.50" x2="1050.90" y2="61.10" stroke="#000" stroke-opacity="0.72" stroke-width="1.15" />
<line x1="1067.69" y1="209.55" x2="1067.69" y2="211.25" stroke="#000" stroke-opacity="0.72" stroke-width="1.15" />
<line x1="1067.69" y1="62.50" x2="1067.69" y2="61.10" stroke="#000" stroke-opacity="0.72" stroke-width="1.15" />
<text x="105.00" y="378.99" font-size="25" text-anchor="end" font-style="normal" >0.2</text>
<text x="105.00" y="331.15" font-size="25" text-anchor="end" font-style="normal" >0</text>
<text x="105.00" y="283.31" font-size="25" text-anchor="end" font-style="normal" >0.2</text>
<text x="105.00" y="235.47" font-size="25" text-anchor="end" font-style="normal" >0.4</text>
<text x="105.00" y="187.63" font-size="25" text-anchor="end" font-style="normal" >0.6</text>
<text x="105.00" y="139.79" font-size="25" text-anchor="end" font-style="normal" >0.8</text>
<text x="105.00" y="91.95" font-size="25" text-anchor="end" font-style="normal" >1.0</text>
<text x="105.00" y="44.11" font-size="25" text-anchor="end" font-style="normal" >1.2</text>
<line x1="55.60" y1="372.10" x2="71.90" y2="372.10" stroke="#000" stroke-width="1.45" />
<text x="117.35" y="401.40" font-size="25" text-anchor="middle" font-style="normal" >0</text>
<text x="206.72" y="401.40" font-size="25" text-anchor="middle" font-style="normal" >2</text>
<text x="296.09" y="401.40" font-size="25" text-anchor="middle" font-style="normal" >4</text>
<text x="385.46" y="401.40" font-size="25" text-anchor="middle" font-style="normal" >6</text>
<text x="474.83" y="401.40" font-size="25" text-anchor="middle" font-style="normal" >8</text>
<text x="564.20" y="401.40" font-size="25" text-anchor="middle" font-style="normal" >10</text>
<text x="646.70" y="401.40" font-size="25" text-anchor="middle" font-style="normal" >0</text>
<text x="717.84" y="401.40" font-size="25" text-anchor="middle" font-style="normal" >0.5</text>
<text x="788.98" y="401.40" font-size="25" text-anchor="middle" font-style="normal" >1.0</text>
<text x="860.13" y="401.40" font-size="25" text-anchor="middle" font-style="normal" >1.5</text>
<text x="931.27" y="401.40" font-size="25" text-anchor="middle" font-style="normal" >2.0</text>
<text x="1002.41" y="401.40" font-size="25" text-anchor="middle" font-style="normal" >2.5</text>
<text x="1073.55" y="401.40" font-size="25" text-anchor="middle" font-style="normal" >3.0</text>
<text x="646.50" y="21.20" font-size="25" text-anchor="middle" font-style="normal" >0</text>
<text transform="translate(702.41 21.20) scale(1.012 1)" font-size="26">π</text>
<path d="M727.78 3.60L729.40 3.60L720.42 25.80L718.80 25.80Z" fill="#000"/>
<text transform="translate(729.70 21.20) scale(0.945 1)" font-size="25">6</text>
<text transform="translate(776.91 21.20) scale(1.012 1)" font-size="26">π</text>
<path d="M802.28 3.60L803.90 3.60L794.92 25.80L793.30 25.80Z" fill="#000"/>
<text transform="translate(804.04 21.20) scale(0.979 1)" font-size="25">3</text>
<text transform="translate(851.41 21.20) scale(1.012 1)" font-size="26">π</text>
<path d="M876.78 3.60L878.40 3.60L869.42 25.80L867.80 25.80Z" fill="#000"/>
<text transform="translate(878.56 21.20) scale(1.010 1)" font-size="25">2</text>
<text transform="translate(917.66 21.20) scale(1.010 1)" font-size="25">2</text>
<text transform="translate(931.61 21.20) scale(1.012 1)" font-size="26">π</text>
<path d="M956.98 3.60L958.60 3.60L949.62 25.80L948.00 25.80Z" fill="#000"/>
<text transform="translate(958.74 21.20) scale(0.979 1)" font-size="25">3</text>
<text transform="translate(991.86 21.20) scale(1.004 1)" font-size="25">5</text>
<text transform="translate(1006.11 21.20) scale(1.012 1)" font-size="26">π</text>
<path d="M1031.48 3.60L1033.10 3.60L1024.12 25.80L1022.50 25.80Z" fill="#000"/>
<text transform="translate(1033.40 21.20) scale(0.945 1)" font-size="25">6</text>
<text transform="translate(1085.91 21.20) scale(1.012 1)" font-size="26">π</text>
<text x="243.50" y="197.75" font-size="25" text-anchor="end" font-style="normal" >0</text>
<text x="243.50" y="145.25" font-size="25" text-anchor="end" font-style="normal" >0.5</text>
<text x="243.50" y="92.75" font-size="25" text-anchor="end" font-style="normal" >1.0</text>
<text x="772.75" y="198.35" font-size="25" text-anchor="end" font-style="normal" >0</text>
<text x="772.75" y="145.85" font-size="25" text-anchor="end" font-style="normal" >0.5</text>
<text x="772.75" y="93.35" font-size="25" text-anchor="end" font-style="normal" >1.0</text>
<text x="233.10" y="242.20" font-size="25" text-anchor="start" font-style="normal" >10</text>
<text transform="translate(257.33 232.60) scale(1.339 1)" font-size="17.5">−</text>
<text transform="translate(270.16 232.60) scale(1.011 1)" font-size="17.5">3</text>
<text x="304.64" y="242.20" font-size="25" text-anchor="start" font-style="normal" >10</text>
<text transform="translate(328.87 232.60) scale(1.339 1)" font-size="17.5">−</text>
<text transform="translate(341.72 232.60) scale(1.043 1)" font-size="17.5">2</text>
<text x="376.18" y="242.20" font-size="25" text-anchor="start" font-style="normal" >10</text>
<text transform="translate(400.40 232.60) scale(1.339 1)" font-size="17.5">−</text>
<text transform="translate(413.11 232.60) scale(1.000 1)" font-size="17.5">1</text>
<text x="454.41" y="242.20" font-size="25" text-anchor="start" font-style="normal" >10</text>
<text transform="translate(479.28 232.60) scale(0.968 1)" font-size="17.5">0</text>
<text x="525.95" y="242.20" font-size="25" text-anchor="start" font-style="normal" >10</text>
<text transform="translate(550.43 232.60) scale(1.000 1)" font-size="17.5">1</text>
<text x="809.90" y="240.70" font-size="25" text-anchor="start" font-style="normal" >10</text>
<text transform="translate(834.12 231.10) scale(1.339 1)" font-size="17.5">−</text>
<text transform="translate(846.98 231.10) scale(1.043 1)" font-size="17.5">2</text>
<text x="905.25" y="240.70" font-size="25" text-anchor="start" font-style="normal" >10</text>
<text transform="translate(929.47 231.10) scale(1.339 1)" font-size="17.5">−</text>
<text transform="translate(942.18 231.10) scale(1.000 1)" font-size="17.5">1</text>
<text x="1005.60" y="240.70" font-size="25" text-anchor="start" font-style="normal" >10</text>
<text transform="translate(1030.46 231.10) scale(0.968 1)" font-size="17.5">0</text>
<text transform="translate(8.42 42.90) scale(1.037 1)" font-size="29.5">(</text>
<text transform="translate(18.56 42.90) scale(1.048 1)" font-size="30" font-style="italic">a</text>
<text transform="translate(34.05 42.90) scale(1.093 1)" font-size="29.5">)</text>
<text transform="translate(591.22 42.90) scale(1.037 1)" font-size="29.5">(</text>
<text transform="translate(601.46 42.90) scale(1.044 1)" font-size="29" font-style="italic">b</text>
<text transform="translate(616.74 42.90) scale(1.000 1)" font-size="29.5">)</text>
<text transform="translate(268.19 440.30) scale(1.163 1)" font-size="30.0">Δ</text>
<text transform="translate(290.87 440.30) scale(0.978 1)" font-size="30.0" font-style="italic">x</text>
<path d="M314.70 420.10L316.50 420.10L307.60 446.50L305.80 446.50Z" fill="#000"/>
<text transform="translate(318.64 440.30) scale(0.961 1)" font-size="30.0" font-style="italic">R</text>
<text transform="translate(336.77 440.30) scale(1.000 1)" font-size="30.0">,</text>
<text transform="translate(352.32 440.30) scale(1.140 1)" font-size="30.0">Δ</text>
<text transform="translate(375.06 440.30) scale(0.970 1)" font-size="30.0" font-style="italic">x</text>
<path d="M398.80 420.10L400.60 420.10L391.70 446.50L389.90 446.50Z" fill="#000"/>
<text transform="translate(402.38 440.30) scale(0.797 1)" font-size="30.0" font-style="italic">δ</text>
<text transform="translate(861.72 440.30) scale(1.140 1)" font-size="30.0">Δ</text>
<text transform="translate(884.53 440.30) scale(0.995 1)" font-size="30.0" font-style="italic">s</text>
<path d="M906.60 420.10L908.40 420.10L899.50 446.50L897.70 446.50Z" fill="#000"/>
<text transform="translate(910.64 440.30) scale(0.961 1)" font-size="30.0" font-style="italic">R</text>
<text transform="translate(929.15 440.30) scale(0.933 1)" font-size="30.0">,</text>
<text transform="translate(944.43 440.30) scale(1.128 1)" font-size="30.0">Δ</text>
<text transform="translate(967.54 440.30) scale(0.957 1)" font-size="30.0" font-style="italic">s</text>
<path d="M989.20 420.10L991.00 420.10L981.70 446.50L979.90 446.50Z" fill="#000"/>
<text transform="translate(992.78 440.30) scale(0.797 1)" font-size="30.0" font-style="italic">δ</text>
<text transform="translate(336.49 274.00) scale(1.163 1)" font-size="25.38">Δ</text>
<text transform="translate(355.68 274.00) scale(0.978 1)" font-size="25.38" font-style="italic">x</text>
<path d="M375.84 256.91L377.36 256.91L369.83 279.25L368.31 279.25Z" fill="#000"/>
<text transform="translate(379.18 274.00) scale(0.961 1)" font-size="25.38" font-style="italic">R</text>
<text transform="translate(394.51 274.00) scale(1.000 1)" font-size="25.38">,</text>
<text transform="translate(407.66 274.00) scale(1.140 1)" font-size="25.38">Δ</text>
<text transform="translate(426.91 274.00) scale(0.970 1)" font-size="25.38" font-style="italic">x</text>
<path d="M446.99 256.91L448.51 256.91L440.98 279.25L439.46 279.25Z" fill="#000"/>
<text transform="translate(450.02 274.00) scale(0.797 1)" font-size="25.38" font-style="italic">δ</text>
<text transform="translate(866.72 272.10) scale(1.140 1)" font-size="25.32">Δ</text>
<text transform="translate(885.97 272.10) scale(0.995 1)" font-size="25.32" font-style="italic">s</text>
<path d="M904.60 255.05L906.12 255.05L898.60 277.33L897.09 277.33Z" fill="#000"/>
<text transform="translate(908.01 272.10) scale(0.961 1)" font-size="25.32" font-style="italic">R</text>
<text transform="translate(923.63 272.10) scale(0.933 1)" font-size="25.32">,</text>
<text transform="translate(936.53 272.10) scale(1.128 1)" font-size="25.32">Δ</text>
<text transform="translate(956.03 272.10) scale(0.957 1)" font-size="25.32" font-style="italic">s</text>
<path d="M974.31 255.05L975.83 255.05L967.99 277.33L966.46 277.33Z" fill="#000"/>
<text transform="translate(977.34 272.10) scale(0.797 1)" font-size="25.32" font-style="italic">δ</text>
<g transform="translate(36.00 246.50) rotate(-90) scale(1.0)">
<text transform="translate(0.14 0.00) scale(0.922 1)" font-size="30" font-style="italic">R</text>
<text transform="translate(17.30 6.00) scale(1.076 1)" font-size="20.5" font-style="italic">u</text>
<text transform="translate(28.18 9.20) scale(0.789 1)" font-size="12.5" font-style="italic">τ</text>
<text transform="translate(32.57 6.00) scale(1.100 1)" font-size="20.5" font-style="italic">u</text>
<text transform="translate(43.77 9.20) scale(0.833 1)" font-size="12.5" font-style="italic">τ</text>
<path d="M58.50 -20.70L60.30 -20.70L51.10 5.90L49.30 5.90Z" fill="#000"/>
<text transform="translate(61.01 0.00) scale(1.196 1)" font-size="30" font-style="italic">u</text>
<text transform="translate(78.40 -11.50) scale(1.000 1)" font-size="20">2</text>
<text transform="translate(78.94 5.00) scale(0.770 1)" font-size="21" font-style="italic">τ</text>
<line x1="69.30" y1="-28.40" x2="88.20" y2="-28.40" stroke="#000" stroke-width="1.4" />
</g>
<g transform="translate(189.00 172.90) rotate(-90) scale(0.845)">
<text transform="translate(0.14 0.00) scale(0.922 1)" font-size="30" font-style="italic">R</text>
<text transform="translate(17.30 6.00) scale(1.076 1)" font-size="20.5" font-style="italic">u</text>
<text transform="translate(28.18 9.20) scale(0.789 1)" font-size="12.5" font-style="italic">τ</text>
<text transform="translate(32.57 6.00) scale(1.100 1)" font-size="20.5" font-style="italic">u</text>
<text transform="translate(43.77 9.20) scale(0.833 1)" font-size="12.5" font-style="italic">τ</text>
<path d="M58.50 -20.70L60.30 -20.70L51.10 5.90L49.30 5.90Z" fill="#000"/>
<text transform="translate(61.01 0.00) scale(1.196 1)" font-size="30" font-style="italic">u</text>
<text transform="translate(78.40 -11.50) scale(1.000 1)" font-size="20">2</text>
<text transform="translate(78.94 5.00) scale(0.770 1)" font-size="21" font-style="italic">τ</text>
<line x1="69.30" y1="-28.40" x2="88.20" y2="-28.40" stroke="#000" stroke-width="1.4" />
</g>
<g transform="translate(722.30 173.00) rotate(-90) scale(0.835)">
<text transform="translate(0.14 0.00) scale(0.922 1)" font-size="30" font-style="italic">R</text>
<text transform="translate(17.30 6.00) scale(1.076 1)" font-size="20.5" font-style="italic">u</text>
<text transform="translate(28.18 9.20) scale(0.789 1)" font-size="12.5" font-style="italic">τ</text>
<text transform="translate(32.57 6.00) scale(1.100 1)" font-size="20.5" font-style="italic">u</text>
<text transform="translate(43.77 9.20) scale(0.833 1)" font-size="12.5" font-style="italic">τ</text>
<path d="M58.50 -20.70L60.30 -20.70L51.10 5.90L49.30 5.90Z" fill="#000"/>
<text transform="translate(61.01 0.00) scale(1.196 1)" font-size="30" font-style="italic">u</text>
<text transform="translate(78.40 -11.50) scale(1.000 1)" font-size="20">2</text>
<text transform="translate(78.94 5.00) scale(0.770 1)" font-size="21" font-style="italic">τ</text>
<line x1="69.30" y1="-28.40" x2="88.20" y2="-28.40" stroke="#000" stroke-width="1.4" />
</g>
</svg>
</body></html>
